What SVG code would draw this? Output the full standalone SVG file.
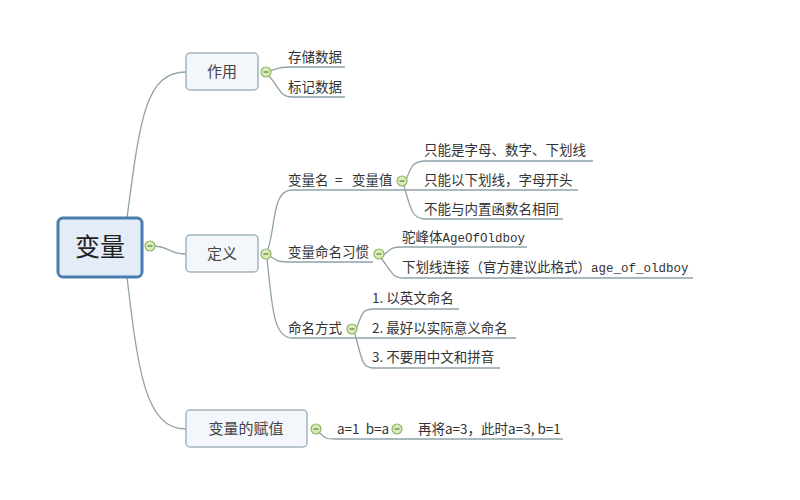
<svg xmlns="http://www.w3.org/2000/svg" width="800" height="500" viewBox="0 0 800 500">
<style>
.bg{fill:#ffffff}
.ln{fill:none;stroke:#8fa3a8;stroke-width:1.3}
.box{fill:#f3f6fa;stroke:#a3b4bf;stroke-width:1.5}
.root{fill:#e3ecf7;stroke:#4a7eae;stroke-width:3}
.t{font-family:"Noto Sans CJK SC","Liberation Sans",sans-serif;fill:#333333;font-size:13.5px}
.tb{font-family:"Noto Sans CJK SC","Liberation Sans",sans-serif;fill:#444444;font-size:15px;text-anchor:middle}
.tr{font-family:"Noto Sans CJK SC","Liberation Sans",sans-serif;fill:#222222;font-size:25px;text-anchor:middle}
.m{font-family:"Liberation Mono",monospace;font-size:12.5px}
.c{fill:#d9ecbb;stroke:#93b564;stroke-width:1.2}
.cm{stroke:#5f7f3a;stroke-width:1.2}
</style>
<defs>
<g id="col"><circle class="c" cx="0" cy="0" r="5"/><line class="cm" x1="-2.5" y1="0" x2="2.5" y2="0"/></g>
</defs>
<rect class="bg" x="0" y="0" width="800" height="500"/>
<g id="connectors">
<path class="ln" d="M127,218 C140,120 145,72 186,72"/>
<path class="ln" d="M155,246 C170,247 170,254 186,254"/>
<path class="ln" d="M127,277 C138,370 145,429 186,429"/>
<path class="ln" d="M270,71 C278,68 280,67 292,67 L345,67"/>
<path class="ln" d="M269,76 C280,88 280,97 292,97 L345,97"/>
<path class="ln" d="M268,249 C276,225 272,190 292,190 L398,190"/>
<path class="ln" d="M404,186 C411,166 412,161 426,161 L593,161"/>
<path class="ln" d="M398,190 L578,190"/>
<path class="ln" d="M404,186 C411,210 412,219 426,219 L563,219"/>
<path class="ln" d="M270,256 C278,262 280,262 292,262 L373,262"/>
<path class="ln" d="M381,257 C390,250 390,247 402,247 L527,247"/>
<path class="ln" d="M381,258 C392,272 392,278 404,278 L693,278"/>
<path class="ln" d="M267,259 C272,300 272,338 292,338 L352,338"/>
<path class="ln" d="M355,333 C362,313 362,309 374,309 L459,309"/>
<path class="ln" d="M352,338 L516,338"/>
<path class="ln" d="M355,334 C362,360 362,368 374,368 L500,368"/>
<path class="ln" d="M319,432 C325,438 325,439 335,439 L563,439"/>
</g>
<g id="root"><rect class="root" x="58" y="218" width="84" height="59" rx="5"/><text class="tr" x="100" y="256">变量</text><use href="#col" x="150" y="246"/></g>
<g id="n-zuoyong"><rect class="box" x="186" y="53" width="72" height="37" rx="4"/><text class="tb" x="222" y="77">作用</text><use href="#col" x="266" y="72"/></g>
<g id="n-cunchu"><text class="t" x="288" y="62">存储数据</text></g>
<g id="n-biaoji"><text class="t" x="288" y="92">标记数据</text></g>
<g id="n-dingyi"><rect class="box" x="186" y="235" width="72" height="37" rx="4"/><text class="tb" x="222" y="259">定义</text><use href="#col" x="266" y="254"/></g>
<g id="n-bianliangming"><text class="t" x="288" y="185">变量名<tspan x="335">=</tspan><tspan x="352">变量值</tspan></text><use href="#col" x="402" y="181"/></g>
<g id="n-r1"><text class="t" x="424" y="155">只能是字母、数字、下划线</text></g>
<g id="n-r2"><text class="t" x="424" y="185">只能以下划线，字母开头</text></g>
<g id="n-r3"><text class="t" x="424" y="214">不能与内置函数名相同</text></g>
<g id="n-xiguan"><text class="t" x="288" y="257">变量命名习惯</text><use href="#col" x="379" y="254"/></g>
<g id="n-tuofeng"><text class="t" x="402" y="242">驼峰体<tspan class="m">AgeOfOldboy</tspan></text></g>
<g id="n-xiahuaxian"><text class="t" x="402" y="272">下划线连接（官方建议此格式）<tspan class="m">age_of_oldboy</tspan></text></g>
<g id="n-fangshi"><text class="t" x="288" y="333">命名方式</text><use href="#col" x="352" y="329"/></g>
<g id="n-f1"><text class="t" x="372" y="303">1. 以英文命名</text></g>
<g id="n-f2"><text class="t" x="372" y="333">2. 最好以实际意义命名</text></g>
<g id="n-f3"><text class="t" x="372" y="362">3. 不要用中文和拼音</text></g>
<g id="n-fuzhi"><rect class="box" x="186" y="410" width="121" height="37" rx="4"/><text class="tb" x="246" y="434">变量的赋值</text><use href="#col" x="316" y="429"/></g>
<g id="n-ab"><text class="t" x="337" y="434" xml:space="preserve">a=1  b=a</text><use href="#col" x="397" y="429"/></g>
<g id="n-zaijiang"><text class="t" x="418" y="434">再将a=3，此时a=3, b=1</text></g>
</svg>
